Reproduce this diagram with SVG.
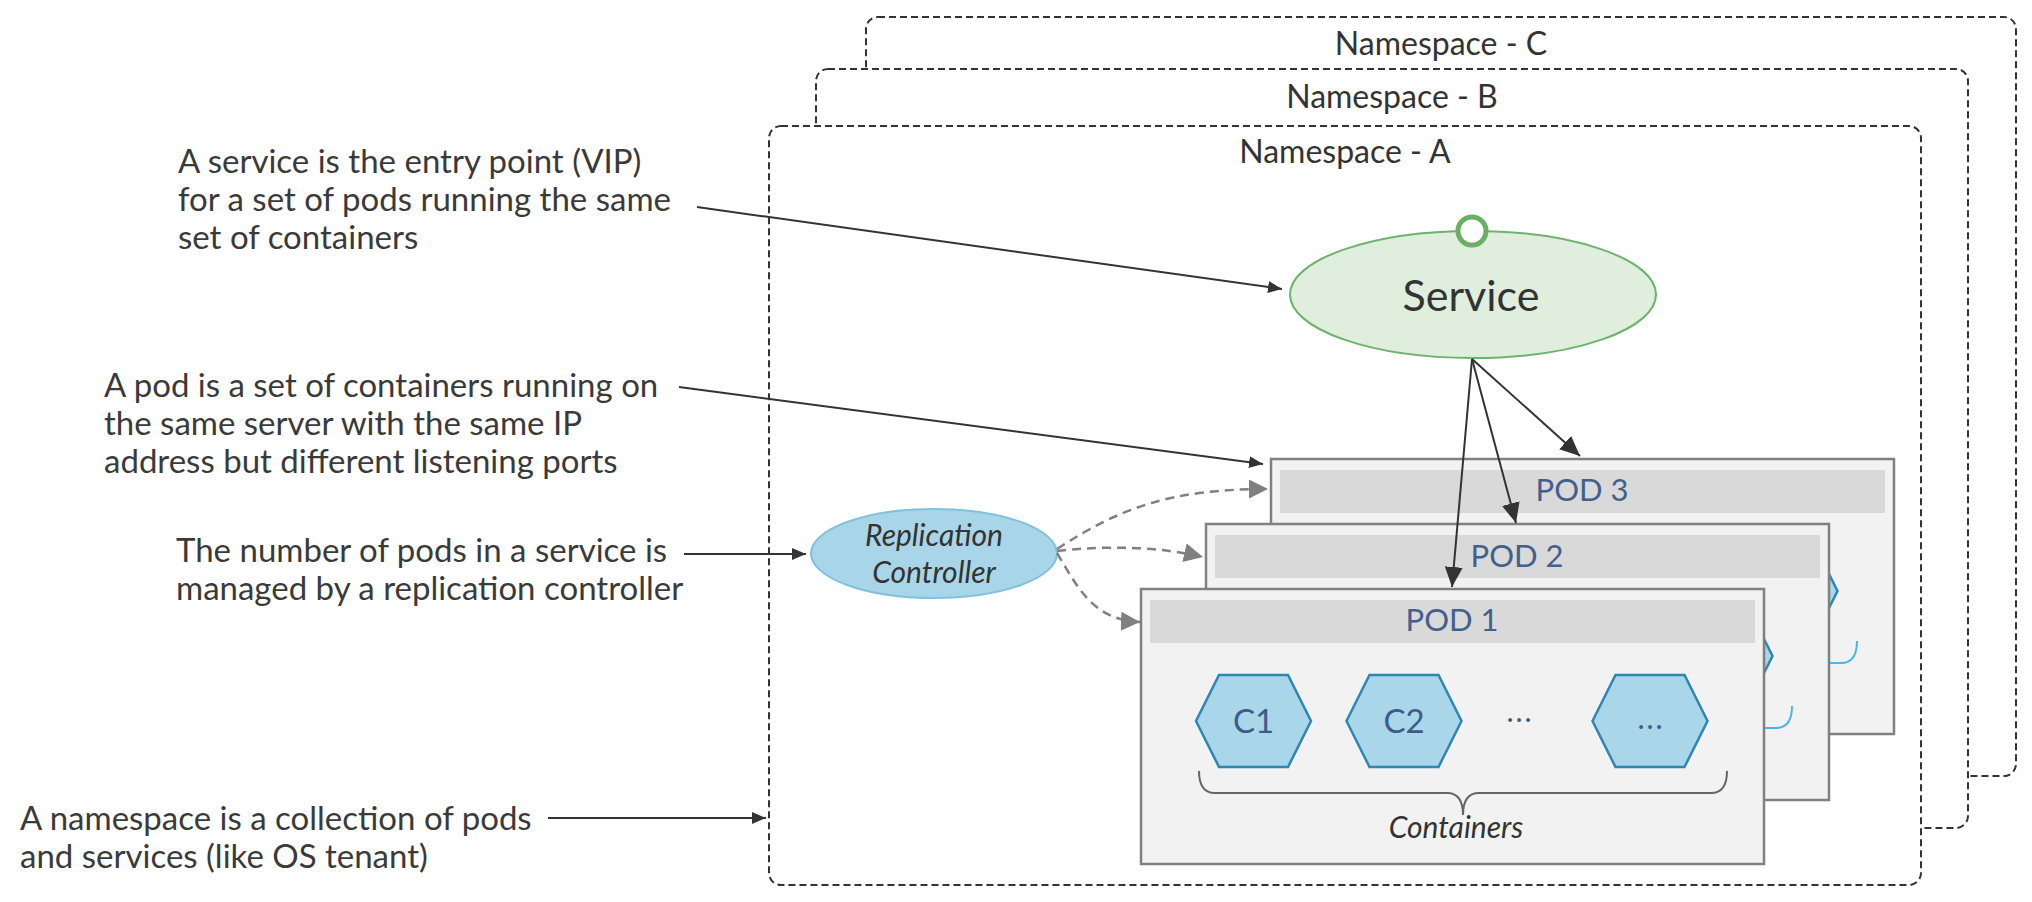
<svg xmlns="http://www.w3.org/2000/svg" width="2032" height="902" viewBox="0 0 2032 902">
<defs>
<style>
.ns{fill:#fff;stroke:#333;stroke-width:2;stroke-dasharray:7 4}
.nst{font-family:Lato,"Liberation Sans",sans-serif;font-size:32px;fill:#333;text-anchor:middle}
.note{font-family:Lato,"Liberation Sans",sans-serif;font-size:33px;fill:#3a3a3a}
.pod{fill:#f2f2f2;stroke:#808080;stroke-width:2.5}
.hdr{fill:#d9d9d9}
.podt{font-family:Lato,"Liberation Sans",sans-serif;font-size:31px;fill:#41608e;text-anchor:middle}
.hex{fill:#a9d6e8;stroke:#2e86b3;stroke-width:2.5}
.hext{font-family:Lato,"Liberation Sans",sans-serif;font-size:33px;fill:#3e5b8a;text-anchor:middle}
.dots{font-family:Lato,"Liberation Sans",sans-serif;font-size:30px;fill:#3e5b8a;text-anchor:middle;letter-spacing:2px}
.brace{fill:none;stroke:#666;stroke-width:2}
.braceb{fill:none;stroke:#4db5e8;stroke-width:2}
.it{font-family:Lato,"Liberation Sans",sans-serif;font-style:italic;font-size:30px;fill:#333;text-anchor:middle}
.ln{fill:none;stroke:#333;stroke-width:2}
.dl{fill:none;stroke:#808080;stroke-width:2.5;stroke-dasharray:9 6}
</style>
<marker id="as" markerUnits="userSpaceOnUse" markerWidth="16" markerHeight="14" refX="14" refY="6" orient="auto">
<path d="M0,0 L14,6 L0,12 z" fill="#333"/>
</marker>
<marker id="al" markerUnits="userSpaceOnUse" markerWidth="22" markerHeight="20" refX="20" refY="9" orient="auto">
<path d="M0,0 L20,9 L0,18 z" fill="#333"/>
</marker>
<marker id="ag" markerUnits="userSpaceOnUse" markerWidth="22" markerHeight="22" refX="19" refY="9.5" orient="auto">
<path d="M0,0 L19,9.5 L0,19 z" fill="#808080"/>
</marker>
<polygon id="hexshape" points="-57.5,0 -34.5,-46 34.5,-46 57.5,0 34.5,46 -34.5,46"/>
</defs>

<g id="namespace-c">
<rect class="ns" x="866" y="17" width="1150" height="759" rx="12"/>
<text class="nst" x="1441" y="55">Namespace - C</text>
</g>
<g id="namespace-b">
<rect class="ns" x="816" y="69" width="1152" height="759" rx="12"/>
<text class="nst" x="1392" y="108">Namespace - B</text>
</g>
<g id="namespace-a">
<rect class="ns" x="769" y="126" width="1152" height="759" rx="12"/>
<text class="nst" x="1345" y="163">Namespace - A</text>
</g>

<g id="note-service">
<text class="note" x="178" y="173">A service is the entry point (VIP)</text>
<text class="note" x="178" y="211">for a set of pods running the same</text>
<text class="note" x="178" y="249">set of containers</text>
</g>
<g id="note-pod">
<text class="note" x="104" y="397">A pod is a set of containers running on</text>
<text class="note" x="104" y="435">the same server with the same IP</text>
<text class="note" x="104" y="473">address but different listening ports</text>
</g>
<g id="note-rc">
<text class="note" x="176" y="562">The number of pods in a service is</text>
<text class="note" x="176" y="600">managed by a replication controller</text>
</g>
<g id="note-namespace">
<text class="note" x="20" y="830">A namespace is a collection of pods</text>
<text class="note" x="20" y="868">and services (like OS tenant)</text>
</g>

<g id="service">
<ellipse cx="1473" cy="294.5" rx="183" ry="63.5" fill="#dfeedd" stroke="#6db36b" stroke-width="2"/>
<circle cx="1472" cy="231" r="14" fill="#fff" stroke="#6aaf63" stroke-width="5"/>
<text x="1471" y="311" font-family="Lato,'Liberation Sans',sans-serif" font-size="43" fill="#333" text-anchor="middle">Service</text>
</g>

<g id="replication-controller">
<ellipse cx="934" cy="553.5" rx="123" ry="44.5" fill="#a8d6e8" stroke="#80c1de" stroke-width="2"/>
<text class="it" x="934" y="546">Replication</text>
<text class="it" x="934" y="583">Controller</text>
</g>

<g id="pod-3">
<rect class="pod" x="1271" y="459" width="623" height="275"/>
<rect class="hdr" x="1280" y="470" width="605" height="43"/>
<text class="podt" x="1582" y="501">POD 3</text>
<use href="#hexshape" class="hex" x="1780" y="591"/>
<path class="braceb" d="M1329,641 Q1329,663 1345,663 L1577,663 Q1593,663 1593,685 Q1593,663 1609,663 L1841,663 Q1857,663 1857,641"/>
</g>
<g id="pod-2">
<rect class="pod" x="1206" y="524" width="623" height="276"/>
<rect class="hdr" x="1215" y="535" width="605" height="43"/>
<text class="podt" x="1517" y="567">POD 2</text>
<use href="#hexshape" class="hex" x="1715" y="656"/>
<path class="braceb" d="M1264,706 Q1264,728 1280,728 L1512,728 Q1528,728 1528,750 Q1528,728 1544,728 L1776,728 Q1792,728 1792,706"/>
</g>
<g id="pod-1">
<rect class="pod" x="1141" y="589" width="623" height="275"/>
<rect class="hdr" x="1150" y="600" width="605" height="43"/>
<text class="podt" x="1452" y="631">POD 1</text>
<g id="c1">
<use href="#hexshape" class="hex" x="1253.5" y="721"/>
<text class="hext" x="1253.5" y="733">C1</text>
</g>
<g id="c2">
<use href="#hexshape" class="hex" x="1404" y="721"/>
<text class="hext" x="1404" y="733">C2</text>
</g>
<text class="dots" x="1520" y="722">...</text>
<g id="cn">
<use href="#hexshape" class="hex" x="1650" y="721"/>
<text class="dots" x="1651" y="729">...</text>
</g>
<path class="brace" d="M1199,771 Q1199,793 1215,793 L1447,793 Q1463,793 1463,815 Q1463,793 1479,793 L1711,793 Q1727,793 1727,771"/>
<text class="it" x="1456" y="838">Containers</text>
</g>

<g id="connectors">
<line class="ln" x1="697" y1="207" x2="1282" y2="289" marker-end="url(#as)"/>
<line class="ln" x1="679" y1="387" x2="1263" y2="464" marker-end="url(#as)"/>
<line class="ln" x1="684" y1="554" x2="806" y2="554" marker-end="url(#as)"/>
<line class="ln" x1="548" y1="818" x2="766" y2="818" marker-end="url(#as)"/>
<line class="ln" x1="1472" y1="359" x2="1580" y2="456" marker-end="url(#al)"/>
<line class="ln" x1="1472" y1="359" x2="1516" y2="523" marker-end="url(#al)"/>
<line class="ln" x1="1472" y1="359" x2="1452" y2="587" marker-end="url(#al)"/>
<path class="dl" d="M1057,549 C1120,508 1170,489 1268,489" marker-end="url(#ag)"/>
<path class="dl" d="M1057,551 C1110,545 1160,547 1203,557" marker-end="url(#ag)"/>
<path class="dl" d="M1057,553 C1080,592 1095,620 1140,622" marker-end="url(#ag)"/>
</g>
</svg>
